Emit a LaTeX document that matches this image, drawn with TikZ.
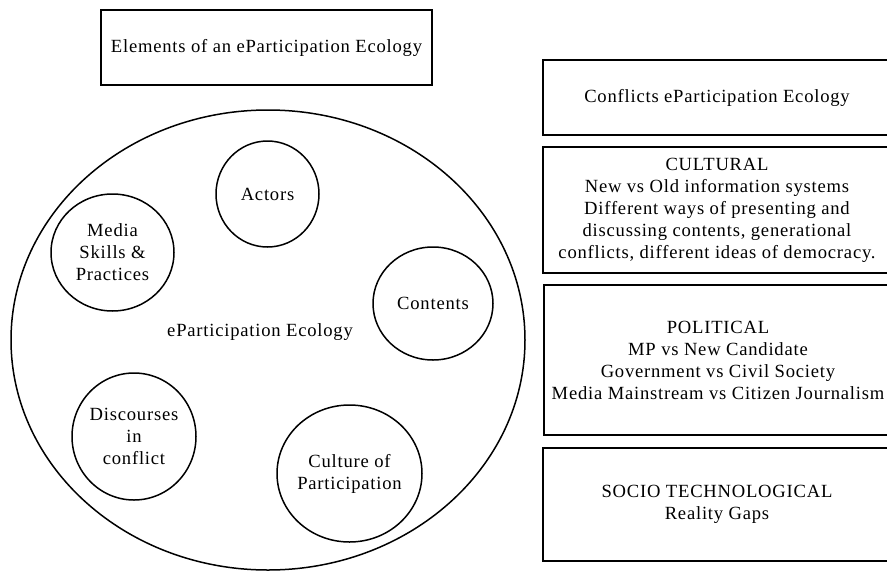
\documentclass[tikz,border=0pt]{standalone}
\usepackage{fontspec}
\setmainfont[LetterSpace=4.2]{Liberation Serif}
\usetikzlibrary{shapes.geometric}
\begin{document}
\begin{tikzpicture}[x=1pt,y=-1pt,
  every node/.style={font=\fontsize{18.6}{22}\selectfont},
  box/.style={draw,line width=1.6pt,rectangle,inner sep=0pt,align=center},
  bubble/.style={draw,line width=1.5pt,ellipse,inner sep=0pt},
  txt/.style={align=center,inner sep=0pt}]
\useasboundingbox (0,0) rectangle (887,571);
\clip (-2,-2) rectangle (887,571);

% title box
\node[box,minimum width=331pt,minimum height=75pt] (title) at (266.5,47.5)
  {Elements of an eParticipation Ecology};

% the ecology and its elements
\node[bubble,minimum width=514pt,minimum height=460pt] (eco) at (268,340) {};
\node[txt] (ecolabel) at (260,332) {eParticipation Ecology};

\node[bubble,minimum width=103pt,minimum height=106pt] (actors) at (267.5,194) {};
\node[txt] (actorstxt) at (actors.center) {Actors};

\node[bubble,minimum width=123pt,minimum height=117pt] (media) at (112.5,252.5) {};
\node[txt] (mediatxt) at (media.center) {Media\\Skills \&\\Practices};

\node[bubble,minimum width=120pt,minimum height=113pt] (contents) at (433,303.5) {};
\node[txt] (contentstxt) at (contents.center) {Contents};

\node[bubble,minimum width=124pt,minimum height=127pt] (disc) at (134,436.5) {};
\node[txt] (disctxt) at (disc.center) {Discourses\\in\\conflict};

\node[bubble,minimum width=145pt,minimum height=137pt] (culture) at (349.5,473.5) {};
\node[txt] (culturetxt) at (culture.center) {Culture of\\Participation};

% conflict boxes on the right
\node[box,minimum width=348pt,minimum height=75pt] (conflicts) at (717,97.5)
  {Conflicts eParticipation Ecology};
\node[box,minimum width=348pt,minimum height=126pt] (cultural) at (717,210)
  {CULTURAL\\New vs Old information systems\\Different ways of presenting and\\discussing contents, generational\\conflicts, different ideas of democracy.};
\node[box,minimum width=348pt,minimum height=150pt] (political) at (718,360)
  {POLITICAL\\MP vs New Candidate\\Government vs Civil Society\\Media Mainstream vs Citizen Journalism};
\node[box,minimum width=348pt,minimum height=113pt] (socio) at (717,504.5)
  {SOCIO TECHNOLOGICAL\\Reality Gaps};
\end{tikzpicture}
\end{document}
